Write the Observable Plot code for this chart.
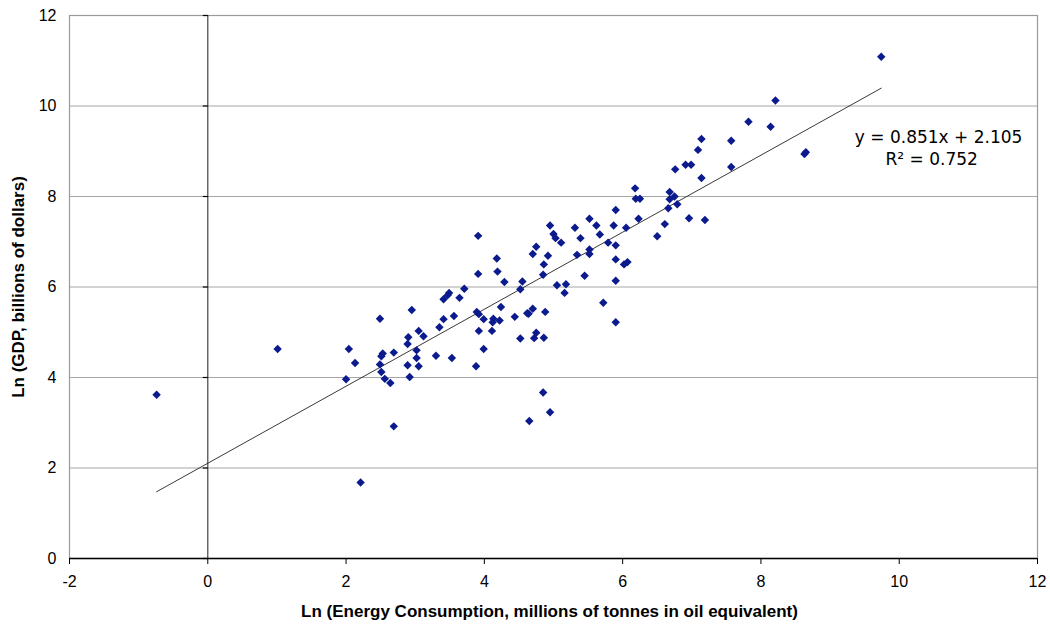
<!DOCTYPE html>
<html>
<head>
<meta charset="utf-8">
<script src="https://cdn.jsdelivr.net/npm/d3@7"></script>
<script src="https://cdn.jsdelivr.net/npm/@observablehq/plot@0.6"></script>
<style>
  html, body { margin: 0; padding: 0; background: #fff; }
  #chart svg { display: block; }
</style>
</head>
<body>
<div id="chart"></div>
<script>
// Ln of energy consumption (millions of tonnes oil equivalent), one entry per country
const lnEnergy = [
  -0.74, 1.01, 2.21, 2.04, 2.00, 3.91, 4.18, 4.19, 3.91, 4.29,
  4.55, 4.52, 4.70, 3.71, 3.49, 3.47, 3.41, 3.64, 2.95, 2.49,
  3.41, 3.56, 3.89, 3.92, 3.99, 4.24, 4.13, 4.12, 4.22, 4.44,
  3.35, 3.05, 2.90, 3.12, 3.92, 4.11, 4.62, 4.52, 2.13, 2.53,
  2.51, 2.69, 2.49, 2.51, 2.56, 2.64, 2.69, 2.89, 3.02, 3.02,
  2.89, 3.05, 2.92, 3.30, 3.53, 3.99, 3.88, 4.65, 6.76, 6.91,
  6.99, 7.14, 6.68, 6.18, 6.19, 6.25, 6.68, 6.75, 6.79, 6.66,
  6.96, 7.19, 6.61, 6.50, 5.90, 6.23, 5.87, 6.05, 5.52, 5.62,
  5.67, 5.31, 5.39, 4.95, 5.00, 5.03, 5.11, 5.79, 5.90, 5.52,
  5.52, 5.34, 4.75, 4.92, 4.86, 4.85, 5.90, 6.02, 6.07, 5.45,
  5.90, 5.05, 5.18, 5.16, 5.72, 5.90, 4.70, 4.64, 4.88, 4.75,
  4.72, 4.86, 4.85, 4.95, 9.74, 8.21, 7.82, 8.14, 7.14, 7.57,
  7.09, 8.63, 8.65, 7.57
];

// Ln of GDP (billions of dollars), same order
const lnGdp = [
  3.62, 4.63, 1.68, 4.63, 3.96, 7.13, 6.63, 6.34, 6.29, 6.11,
  6.12, 5.95, 6.73, 5.96, 5.87, 5.82, 5.73, 5.76, 5.49, 5.30,
  5.29, 5.36, 5.45, 5.40, 5.29, 5.56, 5.30, 5.22, 5.26, 5.34,
  5.11, 5.03, 4.89, 4.91, 5.03, 5.03, 5.42, 4.86, 4.32, 4.53,
  4.47, 4.55, 4.29, 4.12, 3.97, 3.88, 2.92, 4.74, 4.60, 4.43,
  4.27, 4.25, 4.01, 4.48, 4.43, 4.63, 4.25, 3.04, 8.60, 8.70,
  8.70, 8.41, 8.10, 8.18, 7.95, 7.95, 7.94, 8.00, 7.83, 7.74,
  7.52, 7.48, 7.39, 7.12, 7.70, 7.51, 7.36, 7.31, 7.51, 7.36,
  7.16, 7.31, 7.08, 7.36, 7.17, 7.08, 6.98, 6.98, 6.92, 6.83,
  6.73, 6.71, 6.89, 6.69, 6.50, 6.27, 6.61, 6.50, 6.55, 6.25,
  6.14, 6.04, 6.06, 5.87, 5.65, 5.22, 5.52, 5.41, 5.45, 4.99,
  4.87, 4.88, 3.67, 3.23, 11.09, 10.12, 9.65, 9.54, 9.27, 9.23,
  9.03, 8.94, 8.98, 8.65
];

const xTicks = [-2, 0, 2, 4, 6, 8, 10, 12];
const yTicks = [0, 2, 4, 6, 8, 10, 12];

// Linear trend line as reported on the chart
const slope = 0.851;
const intercept = 2.105;
const rSquared = 0.752;

const xTitle = "Ln (Energy Consumption, millions of tonnes in oil equivalent)";
const yTitle = "Ln (GDP, billions of dollars)";

const points = lnEnergy.map((x, i) => ({x, y: lnGdp[i]}));
const [xMin, xMax] = d3.extent(lnEnergy);
const trend = [xMin, xMax].map(x => ({x, y: slope * x + intercept}));

const labelFont = "'Liberation Sans', Arial, sans-serif";
const noteFont = "'DejaVu Sans', Verdana, sans-serif";

// short tick to the left of the y axis line that crosses at x = 0
const leftTick = {
  draw(ctx) { ctx.moveTo(-5, 0); ctx.lineTo(0, 0); }
};

const chart = Plot.plot({
  width: 1050,
  height: 627,
  marginLeft: 69,
  marginRight: 13,
  marginTop: 15,
  marginBottom: 69,
  style: {fontFamily: labelFont, fontSize: "16px", color: "#000", background: "#fff"},
  x: {domain: [-2, 12], ticks: xTicks},
  y: {domain: [0, 12], ticks: yTicks},
  marks: [
    Plot.ruleY(yTicks.filter(d => d > 0), {stroke: "#a6a6a6", strokeWidth: 1}),
    Plot.frame({stroke: "#9a9a9a", strokeWidth: 1.2}),
    Plot.ruleX([0], {stroke: "#444", strokeWidth: 1.2}),
    Plot.dot(yTicks, {x: () => 0, y: d => d, symbol: leftTick, r: 5, stroke: "#000", strokeWidth: 1.2, fill: "none"}),
    Plot.ruleY([0], {stroke: "#000", strokeWidth: 1.5}),
    Plot.axisX({ticks: xTicks, tickSize: 6, tickPadding: 11, stroke: "#000", label: null, fontSize: 16,
      tickFormat: d => String(d)}),
    Plot.axisY({ticks: yTicks, tickSize: 0, tickPadding: 13, label: null, fontSize: 16,
      tickFormat: d => String(d)}),
    Plot.line(trend, {x: "x", y: "y", stroke: "#222", strokeWidth: 0.9}),
    Plot.dot(points, {x: "x", y: "y", symbol: "diamond2", r: 3.8, fill: "#0b1a8c", stroke: "none"}),
    Plot.text([`y = ${slope}x + ${intercept}`], {
      x: 10.57, y: 9.30, text: d => d, fontFamily: noteFont,
      fontSize: 17, fill: "#000", textAnchor: "middle"
    }),
    Plot.text([`R\u00b2 = ${rSquared}`], {
      x: 10.47, y: 8.81, text: d => d, fontFamily: noteFont,
      fontSize: 17, fill: "#000", textAnchor: "middle"
    }),
    Plot.text([xTitle], {
      frameAnchor: "bottom", dy: 58, dx: -4, text: d => d, textAnchor: "middle",
      fontWeight: "bold", fontSize: 17, fill: "#000"
    }),
    Plot.text([yTitle], {
      frameAnchor: "left", dx: -51, rotate: -90, text: d => d, textAnchor: "middle",
      fontWeight: "bold", fontSize: 17, fill: "#000"
    })
  ]
});

document.getElementById("chart").appendChild(chart);
</script>
</body>
</html>
